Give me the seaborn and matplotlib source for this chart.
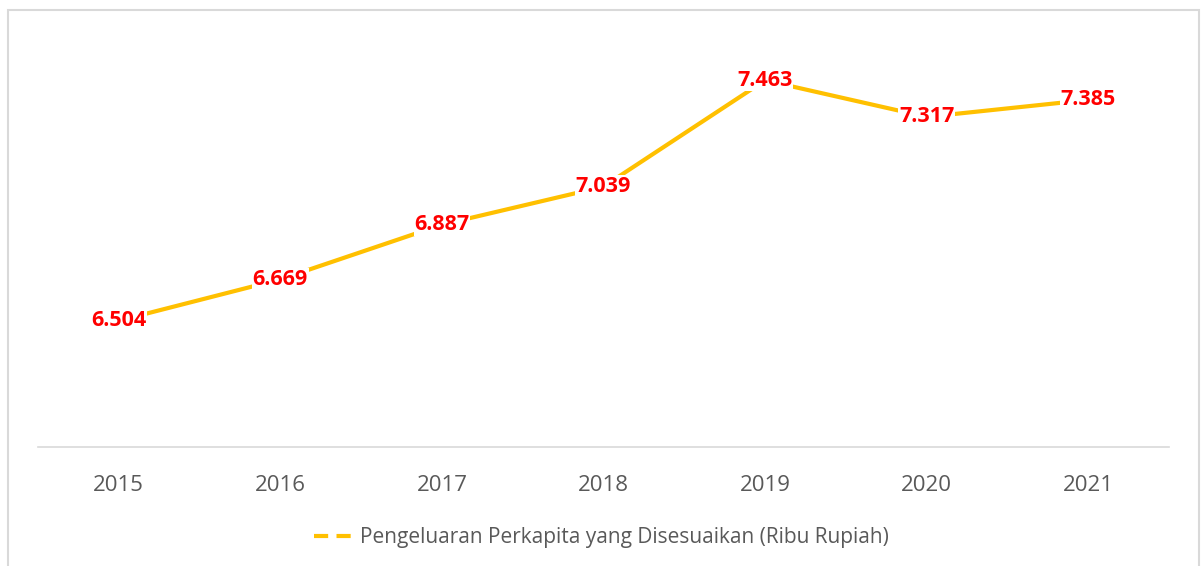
import matplotlib
matplotlib.use("Agg")
import matplotlib.pyplot as plt
import seaborn as sns
import pandas as pd
from matplotlib.lines import Line2D
from matplotlib.patches import Rectangle

years = ["2015", "2016", "2017", "2018", "2019", "2020", "2021"]
values = [6.504, 6.669, 6.887, 7.039, 7.463, 7.317, 7.385]
series_name = "Pengeluaran Perkapita yang Disesuaikan (Ribu Rupiah)"

df = pd.DataFrame({"year": years, "value": values})

sns.set_theme(style="white")
plt.rcParams["font.family"] = ["Open Sans", "DejaVu Sans"]

fig = plt.figure(figsize=(12.03, 5.66), dpi=100)
ax = fig.add_axes([38 / 1203, 1 - 447 / 566, (1169 - 38) / 1203, (447 - 46) / 566])

line_color = "#FFC000"
sns.lineplot(data=df, x="year", y="value", ax=ax, color=line_color,
             linewidth=3, sort=False, legend=False)

for i, v in enumerate(values):
    ax.text(i, v, f"{v:.3f}", color="#FF0000", fontsize=15.5, fontweight="bold",
            ha="center", va="center",
            bbox=dict(facecolor="white", edgecolor="none", pad=0.5))

ax.set_xlim(-0.5, len(years) - 0.5)
ax.set_ylim(6.0, 7.6)
ax.set_yticks([])
ax.set_xlabel("")
ax.set_ylabel("")
for s in ["top", "left", "right"]:
    ax.spines[s].set_visible(False)
ax.spines["bottom"].set_color("#D9D9D9")
ax.spines["bottom"].set_linewidth(1.2)
ax.tick_params(axis="x", length=0, pad=20, labelsize=16, labelcolor="#595959")

handle = Line2D([0], [0], color=line_color, linewidth=3, linestyle=(0, (3.4, 2)))
fig.legend([handle], [series_name], loc="center", bbox_to_anchor=(0.5, 1 - 538 / 566),
           frameon=False, fontsize=15, labelcolor="#595959", handlelength=2.1,
           handletextpad=0.15)

border = Rectangle((8 / 1203, -0.05), (1199 - 8) / 1203, 1.05 - 10 / 566,
                   transform=fig.transFigure, fill=False, edgecolor="#D9D9D9",
                   linewidth=1.5)
fig.patches.append(border)

fig.savefig("out.png", dpi=100)
